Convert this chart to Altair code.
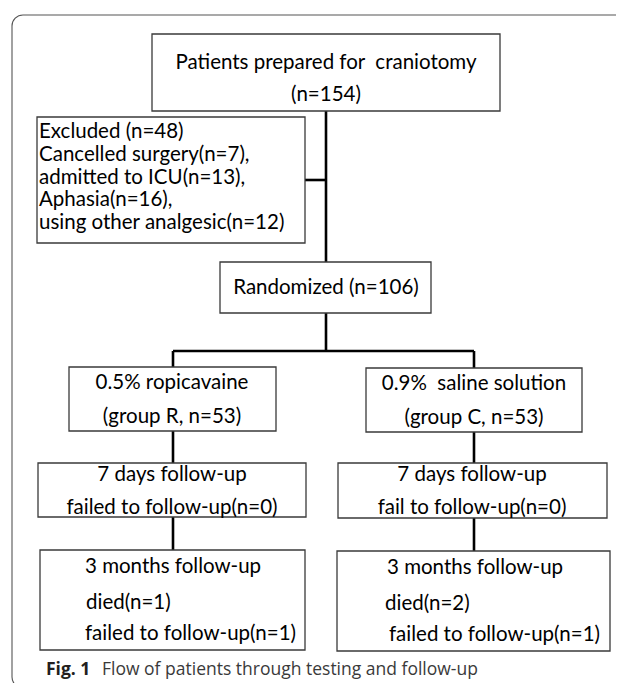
import altair as alt
import pandas as pd

# ---------------- content (text and counts) ----------------
top_lines = ["Patients prepared for \u00a0craniotomy", "(n=154)"]
excluded_lines = [
    "Excluded (n=48)",
    "Cancelled surgery(n=7),",
    "admitted to ICU(n=13),",
    "Aphasia(n=16),",
    "using other analgesic(n=12)",
]
randomized_lines = ["Randomized (n=106)"]
group_r_lines = ["0.5% ropicavaine", "(group R, n=53)"]
group_c_lines = ["0.9% \u00a0saline solution", "(group C, n=53)"]
fu7_r_lines = ["7 days follow-up", "failed to follow-up(n=0)"]
fu7_c_lines = ["7 days follow-up", "fail to follow-up(n=0)"]
fu3_r_lines = ["3 months follow-up", "died(n=1)", "failed to follow-up(n=1)"]
fu3_c_lines = ["3 months follow-up", "died(n=2)", "failed to follow-up(n=1)"]
caption_bold = "Fig. 1"
caption_text = "Flow of patients through testing and follow-up"

# ---------------- layout (pixel coordinates of the figure) ----------------
boxes = {
    "top": (152, 500, 34, 111),
    "excluded": (37, 305, 117, 243),
    "randomized": (220, 431, 262, 313),
    "group_r": (69, 276, 367, 431),
    "group_c": (366, 582, 368, 432),
    "fu7_r": (38, 306, 463, 517),
    "fu7_c": (338, 607, 463, 518),
    "fu3_r": (40, 305, 550, 650),
    "fu3_c": (337, 610, 551, 651),
}
connectors = [
    (326, 326, 111, 117), (326, 326, 117, 262), (305, 326, 180, 180),
    (326, 326, 313, 351), (173, 474, 351, 351),
    (173, 173, 351, 367), (474, 474, 351, 368),
    (173, 173, 431, 463), (474, 474, 432, 463),
    (173, 173, 517, 550), (474, 474, 518, 551),
]
centered = [
    (top_lines, 326, [63, 95]),
    (randomized_lines, 326, [288]),
    (group_r_lines, 172, [383, 417]),
    (group_c_lines, 474, [384, 418]),
    (fu7_r_lines, 172, [475, 508]),
    (fu7_c_lines, 472, [475, 508]),
]
left_aligned = [
    (excluded_lines, [39, 39, 39, 39, 39], [132, 155, 178, 200, 223]),
    (fu3_r_lines, [85, 86, 85], [567, 603, 634]),
    (fu3_c_lines, [387, 385, 389], [568, 604, 635]),
]

box_df = pd.DataFrame(
    [dict(name=k, x1=v[0], x2=v[1], y1=v[2], y2=v[3]) for k, v in boxes.items()]
)
conn_df = pd.DataFrame([dict(x1=a, x2=b, y1=c, y2=d) for a, b, c, d in connectors])
ctext_df = pd.DataFrame(
    [dict(t=t, x=x, y=y) for lines, x, ys in centered for t, y in zip(lines, ys)]
)
ltext_df = pd.DataFrame(
    [dict(t=t, x=x, y=y) for lines, xs, ys in left_aligned for t, x, y in zip(lines, xs, ys)]
)
frame_df = pd.DataFrame([dict(x1=12, x2=720, y1=15, y2=688)])
cap_df = pd.DataFrame([dict(t=caption_bold, x=46, y=670)])
cap2_df = pd.DataFrame([dict(t=caption_text, x=102, y=670)])

xs = alt.Scale(domain=[8, 616], nice=False, zero=False)
ys = alt.Scale(domain=[8, 683], nice=False, zero=False, reverse=True)

def X(f):
    return alt.X(f, type="quantitative", scale=xs, axis=None)

def Y(f):
    return alt.Y(f, type="quantitative", scale=ys, axis=None)

frame = alt.Chart(frame_df).mark_rect(
    fill="white", fillOpacity=0, stroke="#555555", strokeWidth=1.1, cornerRadius=11
).encode(x=X("x1"), x2="x2", y=Y("y1"), y2="y2")

box_layer = alt.Chart(box_df).mark_rect(
    fill="white", stroke="#3a3a3a", strokeWidth=1.3
).encode(x=X("x1"), x2="x2", y=Y("y1"), y2="y2")

conn_layer = alt.Chart(conn_df).mark_rule(
    color="black", strokeWidth=2.6
).encode(x=X("x1"), x2="x2", y=Y("y1"), y2="y2")

FONT = "Lato"
FS = 20.5
ctext = alt.Chart(ctext_df).mark_text(
    align="center", baseline="middle", font=FONT, fontSize=FS, color="black"
).encode(x=X("x"), y=Y("y"), text="t:N")

ltext = alt.Chart(ltext_df).mark_text(
    align="left", baseline="middle", font=FONT, fontSize=FS, color="black"
).encode(x=X("x"), y=Y("y"), text="t:N")

cap1 = alt.Chart(cap_df).mark_text(
    align="left", baseline="middle", font="Open Sans", fontSize=17.5,
    fontWeight="bold", color="#231f20"
).encode(x=X("x"), y=Y("y"), text="t:N")

cap2 = alt.Chart(cap2_df).mark_text(
    align="left", baseline="middle", font="Open Sans", fontSize=17.5, color="#3a3a3a"
).encode(x=X("x"), y=Y("y"), text="t:N")

chart = alt.layer(frame, conn_layer, box_layer, ctext, ltext, cap1, cap2).properties(
    width=608, height=675, autosize=alt.AutoSizeParams(type="none"), padding=0
).configure_view(stroke=None)

chart.save("out.html", embed_options={"renderer": "svg", "actions": False})
